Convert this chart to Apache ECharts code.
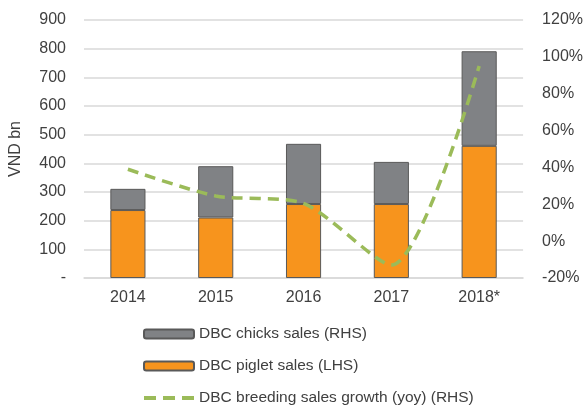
<!DOCTYPE html>
<html>
<head>
<meta charset="utf-8">
<script src="https://cdn.jsdelivr.net/npm/echarts@6/dist/echarts.min.js"></script>
<style>
  html, body { margin: 0; padding: 0; background: #fff; }
  #myChart { width: 586px; height: 408px; }
</style>
</head>
<body>
<div id="myChart"></div>
<script>
// data
const years = ["2014", "2015", "2016", "2017", "2018*"];
const pigletSales = [237, 211, 258, 258, 461];   // VND bn, LHS
const chicksSales = [74, 179, 210, 147, 330];    // VND bn, stacked on piglet
const growthYoy = [39, 24.5, 20.5, -13, 95];     // %, RHS

const myChart = echarts.init(document.getElementById("myChart"));
const txt = "#404040";
const font = "Liberation Sans, Arial, sans-serif";

let option = {
  animation: false,
  textStyle: { fontFamily: font },
  grid: { left: 81, right: 57, top: 20, bottom: 130 },
  legend: {
    orient: "vertical",
    left: 142,
    top: 326,
    padding: 0,
    itemWidth: 50,
    itemHeight: 9,
    itemGap: 16,
    textStyle: { fontSize: 15.5, color: txt, fontFamily: font },
    data: [
      "DBC chicks sales (RHS)",
      "DBC piglet sales (LHS)",
      {
        name: "DBC breeding sales growth (yoy) (RHS)",
        itemStyle: { opacity: 0 },
        lineStyle: { type: [12, 7], width: 4 }
      }
    ]
  },
  xAxis: {
    type: "category",
    data: years,
    axisLine: { lineStyle: { color: "#d9d9d9", width: 1.5 } },
    axisTick: { show: false },
    axisLabel: { fontSize: 16, color: txt, margin: 12 }
  },
  yAxis: [
    {
      type: "value",
      min: 0, max: 900, interval: 100,
      name: "VND bn",
      nameLocation: "middle",
      nameGap: 60,
      nameTextStyle: { fontSize: 16, color: txt },
      axisLabel: {
        fontSize: 16, color: txt, margin: 18,
        formatter: v => (v === 0 ? "-" : v)
      },
      splitLine: { lineStyle: { color: "#d9d9d9", width: 1.5 } }
    },
    {
      type: "value",
      min: -20, max: 120, interval: 20,
      axisLabel: { fontSize: 16, color: txt, margin: 19, formatter: "{value}%" },
      splitLine: { show: false }
    }
  ],
  series: [
    {
      name: "DBC piglet sales (LHS)",
      type: "bar",
      stack: "sales",
      barWidth: "40%",
      data: pigletSales,
      itemStyle: { color: "#F7941D", borderColor: "#595959", borderWidth: 1 }
    },
    {
      name: "DBC chicks sales (RHS)",
      type: "bar",
      stack: "sales",
      barWidth: "40%",
      data: chicksSales,
      itemStyle: { color: "#808285", borderColor: "#595959", borderWidth: 1 }
    },
    {
      name: "DBC breeding sales growth (yoy) (RHS)",
      type: "line",
      yAxisIndex: 1,
      smooth: 0.25,
      symbol: "none",
      data: growthYoy,
      lineStyle: { color: "#9BBB59", width: 3.5, type: [11, 7] },
      itemStyle: { color: "#9BBB59" }
    }
  ]
};

myChart.setOption(option);
window.addEventListener("resize", () => {
  myChart.resize();
});
</script>
</body>
</html>
